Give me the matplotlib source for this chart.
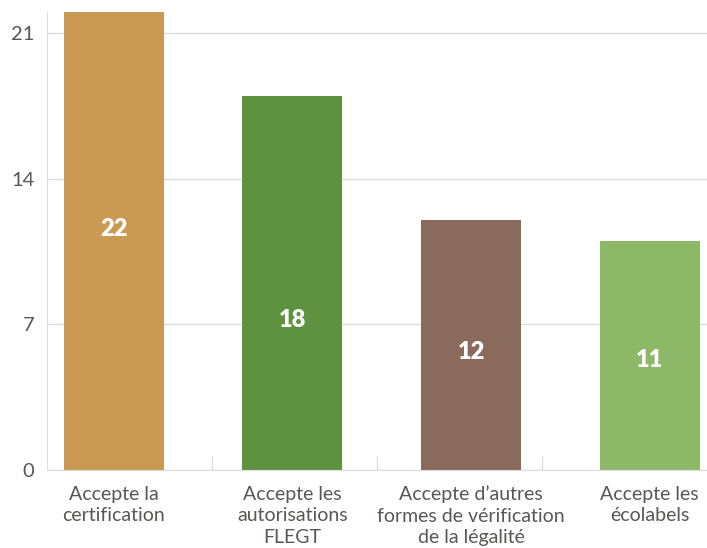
import matplotlib
matplotlib.use("Agg")
import matplotlib.pyplot as plt

categories = [
    "Accepte la\ncertification",
    "Accepte les\nautorisations\nFLEGT",
    "Accepte d\u2019autres\nformes de vérification\nde la légalité",
    "Accepte les\nécolabels",
]
values = [22, 18, 12, 11]
y_ticks = [0, 7, 14, 21]

colors = ["#CA9A52", "#5E9140", "#8A6A5C", "#8DB868"]
label_heights = [11.6, 7.2, 5.65, 5.3]  # where the value labels sit (data units)
text_color = "#5B5555"
grid_color = "#DDDDDD"

plt.rcParams["font.family"] = ["Lato", "DejaVu Sans"]

W, H = 707, 548
fig = plt.figure(figsize=(W / 100, H / 100), dpi=100)
ax = fig.add_axes([47 / W, (H - 470) / H, (W - 47) / W, (470 - 12.4) / H])

x = list(range(len(values)))
ax.bar(x, values, width=0.56, color=colors, zorder=2)
for xi, v, ly in zip(x, values, label_heights):
    ax.text(xi, ly, str(v), ha="center", va="center", color="white",
            fontsize=17, fontweight="heavy", zorder=3)

x_left, x_right = -0.375, 3.322
ax.set_xlim(x_left, x_right)
ax.set_ylim(0, 22)

ax.set_yticks(y_ticks)
ax.set_yticklabels([str(t) for t in y_ticks], color=text_color, fontsize=14.5)
ax.yaxis.grid(True, color=grid_color, linewidth=1, zorder=0)
ax.tick_params(axis="y", length=0, pad=9)

# category separators at quarter divisions of the axis
step = (x_right - x_left) / 4
ax.set_xticks([x_left + step * k for k in range(1, 4)])
ax.set_xticklabels([])
ax.tick_params(axis="x", direction="in", length=10, color=grid_color, width=1)
for xi, c in zip(x, categories):
    ax.text(xi, -0.75, c, ha="center", va="top", color=text_color,
            fontsize=14, linespacing=1.32, transform=ax.transData)

for s in ["top", "right"]:
    ax.spines[s].set_visible(False)
ax.spines["left"].set_color(grid_color)
ax.spines["bottom"].set_color(grid_color)

fig.savefig("out.png", dpi=100)
